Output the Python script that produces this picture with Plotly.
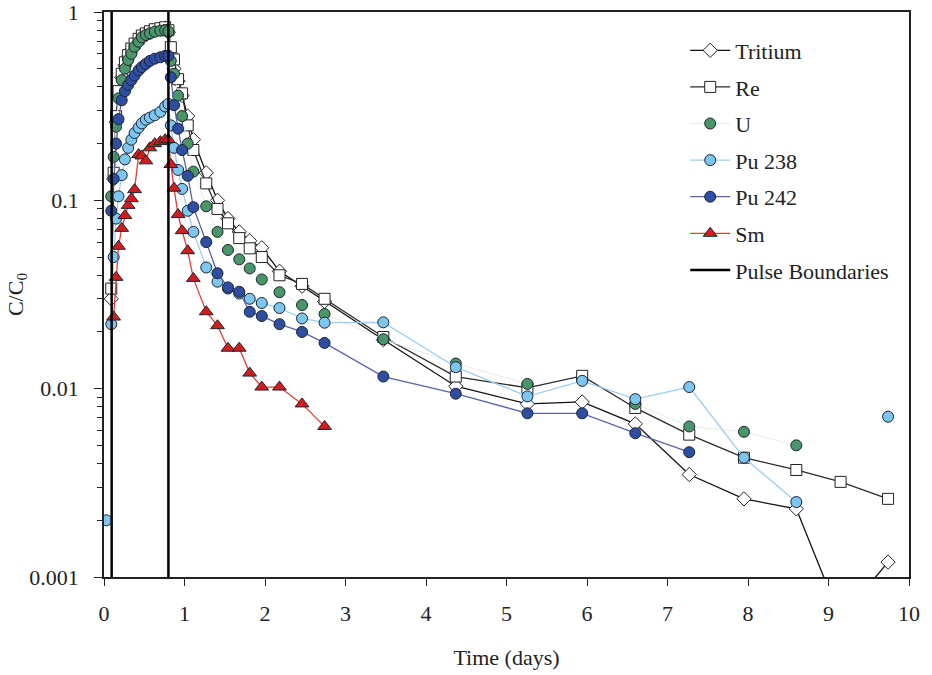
import plotly.graph_objects as go

# Sampling times (days)
time_days = [0.03, 0.06, 0.09, 0.12, 0.15, 0.18, 0.22, 0.26, 0.30, 0.34, 0.38, 0.43, 0.47, 0.52, 0.57, 0.63, 0.70, 0.76, 0.80,
             0.83, 0.87, 0.92, 0.97, 1.04, 1.11, 1.27, 1.41, 1.54, 1.68, 1.81, 1.96, 2.18, 2.46, 2.74,
             3.47, 4.37, 5.26, 5.94, 6.60, 7.27, 7.95, 8.60, 9.15, 9.74]

tritium = [None, None, 0.030, 0.13, 0.26, 0.36, 0.45, 0.52, 0.58, 0.63, 0.67, 0.71, 0.74, 0.76, 0.78, 0.80, 0.81, 0.82, 0.78,
           0.60, 0.50, 0.43, 0.36, 0.28, 0.21, 0.14, 0.10, 0.080, 0.068, 0.061, 0.056, 0.042, 0.035, 0.029,
           0.0182, 0.0103, 0.0083, 0.0085, 0.0065, 0.0035, 0.0026, 0.0023, 0.0006, 0.0012]

re = [None, None, 0.034, 0.14, 0.28, 0.38, 0.47, 0.54, 0.59, 0.64, 0.68, 0.72, 0.75, 0.77, 0.79, 0.81, 0.82, 0.83, 0.80,
      0.65, 0.56, 0.44, 0.37, 0.25, 0.185, 0.123, 0.090, 0.0755, 0.063, 0.0556, 0.050, 0.040, 0.036, 0.030,
      0.0188, 0.0116, 0.0101, 0.0117, 0.0079, 0.0057, 0.0043, 0.0037, 0.0032, 0.0026]

u = [None, None, 0.105, 0.17, 0.246, 0.348, 0.435, 0.50, 0.556, 0.60, 0.654, 0.695, 0.734, 0.755, 0.77, 0.786, 0.796, 0.80, 0.79,
     0.55, 0.47, 0.36, 0.28, 0.20, 0.142, 0.093, 0.068, 0.0545, 0.0486, 0.0435, 0.038, 0.0325, 0.0278, 0.0249,
     0.0183, 0.0136, 0.0106, None, 0.0083, 0.0063, 0.0059, 0.0050, None, None]

pu238 = [0.002, None, 0.022, 0.05, 0.08, 0.105, 0.136, 0.165, 0.19, 0.21, 0.228, 0.243, 0.256, 0.268, 0.275, 0.283, 0.295, 0.315, 0.325,
         0.25, 0.19, 0.145, 0.115, 0.088, 0.068, 0.044, 0.037, 0.034, 0.032, 0.030, 0.0285, 0.0268, 0.0236, 0.0224,
         0.0225, 0.0130, 0.0091, 0.0110, 0.0088, 0.0102, 0.0043, 0.0025, None, 0.0071]

pu242 = [None, None, 0.088, 0.13, 0.20, 0.27, 0.34, 0.38, 0.41, 0.435, 0.46, 0.49, 0.51, 0.53, 0.55, 0.565, 0.575, 0.585, 0.585,
         0.45, 0.32, 0.24, 0.185, 0.135, 0.092, 0.060, 0.041, 0.0345, 0.0327, 0.0256, 0.0243, 0.022, 0.020, 0.0175,
         0.0116, 0.0094, 0.0074, 0.0074, 0.0058, 0.0046, None, None, None, None]

sm = [None, None, None, 0.024, 0.039, 0.057, 0.071, 0.083, 0.094, 0.102, 0.114, 0.175, 0.172, 0.162, 0.19, 0.20, 0.205, 0.21, 0.21,
      0.155, 0.116, 0.084, 0.069, 0.054, 0.0385, 0.0256, 0.0216, 0.0164, 0.0164, 0.0121, 0.0102, 0.0102, 0.0083, 0.0063,
      None, None, None, None, None, None, None, None, None, None]

pulse_bounds = [0.095, 0.80]

x_ticks = [0, 1, 2, 3, 4, 5, 6, 7, 8, 9, 10]
y_ticks = [0.001, 0.01, 0.1, 1]
y_tick_text = ["0.001", "0.01", "0.1", "1"]
y_minor = [m * 10.0 ** e for e in (-3, -2, -1) for m in range(2, 10)]

FONT = "Liberation Serif, Times New Roman, serif"
OUT = "#1c2430"

fig = go.Figure()

series = [
    ("Tritium", tritium, "diamond", "white", 11, "#111111", 1.3),
    ("Re", re, "square", "white", 11, "#2a2a2a", 1.3),
    ("U", u, "circle", "#4a9668", 11, "#e6ede6", 1.0),
    ("Pu 238", pu238, "circle", "#7ec6f2", 11, "#9ccff2", 1.3),
    ("Pu 242", pu242, "circle", "#2d4ea3", 11, "#5c62ad", 1.3),
    ("Sm", sm, "triangle-up", "#d41c1c", 12, "#e0403a", 1.3),
]

for name, vals, sym, fill, size, lcol, lw in series:
    fig.add_trace(go.Scatter(
        x=time_days, y=vals, name=name, mode="lines+markers",
        legendgroup=name, connectgaps=False,
        line=dict(color=lcol, width=lw),
        marker=dict(symbol=sym, color=fill, size=size,
                    line=dict(color="#222222" if fill == "white" else OUT, width=1)),
    ))

bx, by = [], []
for b in pulse_bounds:
    bx += [b, b, None]
    by += [0.001, 1, None]
fig.add_trace(go.Scatter(x=bx, y=by, name="Pulse Boundaries", mode="lines",
                         legendgroup="pb", line=dict(color="black", width=2.5)))

fig.update_layout(
    width=932, height=675,
    margin=dict(l=104, r=23, t=12, b=98, autoexpand=False),
    paper_bgcolor="white", plot_bgcolor="white",
    font=dict(family=FONT, size=22, color="#222222"),
    showlegend=True,
    legend=dict(x=0.722, y=0.969, xanchor="left", yanchor="top",
                font=dict(family=FONT, size=22, color="#222222"),
                bgcolor="rgba(0,0,0,0)", tracegroupgap=5,
                traceorder="grouped", itemwidth=40),
)

fig.update_xaxes(
    range=[0, 10], tickvals=x_ticks, ticks="outside", ticklen=7, tickcolor="#222",
    tickfont=dict(family=FONT, size=22), ticklabelstandoff=9, automargin=False,
    showline=True, linecolor="#222", linewidth=1.5, mirror=True,
    showgrid=False, zeroline=False,
    title=dict(text="Time (days)", font=dict(family=FONT, size=22), standoff=24),
)
fig.update_yaxes(
    type="log", range=[-3, 0], tickvals=y_ticks, ticktext=y_tick_text,
    ticks="outside", ticklen=8, tickcolor="#222",
    tickfont=dict(family=FONT, size=22), ticklabelstandoff=11,
    ticklabeloverflow="allow", automargin=False,
    minor=dict(tickvals=y_minor, ticks="outside", ticklen=5, tickcolor="#222"),
    showline=True, linecolor="#222", linewidth=1.5, mirror=True,
    showgrid=False, zeroline=False,
    title=dict(text="C/C<sub>0</sub>", font=dict(family=FONT, size=22), standoff=0),
)

# remove the browser's default 8px body margin so the figure fills the window
fig.write_html(
    "out.html",
    config={"displayModeBar": False},
    post_script="document.body.style.margin='0';document.body.style.overflow='hidden';",
)
